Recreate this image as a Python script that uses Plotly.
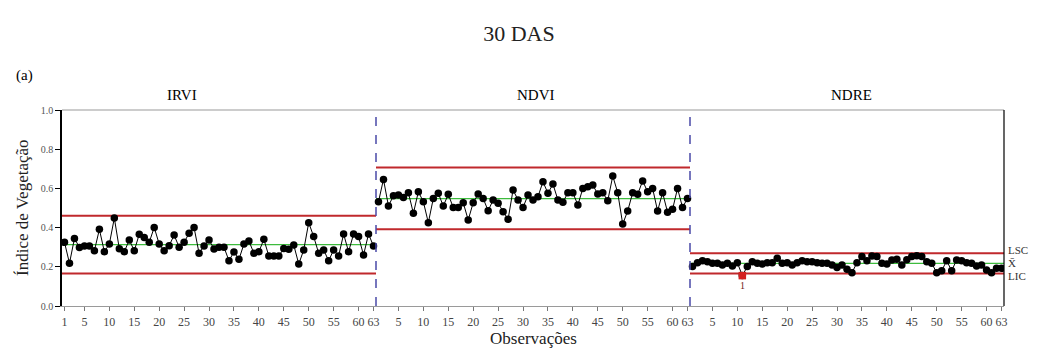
import plotly.graph_objects as go

# ---- data ----
stages = ["IRVI", "NDVI", "NDRE"]
irvi = [0.325, 0.218, 0.345, 0.299, 0.306, 0.306, 0.282, 0.391, 0.277, 0.316,
        0.449, 0.292, 0.277, 0.337, 0.282, 0.366, 0.349, 0.325, 0.401, 0.316,
        0.282, 0.308, 0.362, 0.300, 0.325, 0.371, 0.400, 0.269, 0.306, 0.337,
        0.291, 0.300, 0.300, 0.231, 0.276, 0.238, 0.316, 0.332, 0.269, 0.277,
        0.340, 0.255, 0.255, 0.255, 0.294, 0.289, 0.311, 0.214, 0.286, 0.425,
        0.354, 0.269, 0.286, 0.231, 0.286, 0.255, 0.367, 0.277, 0.367, 0.354,
        0.260, 0.367, 0.306]
ndvi = [0.532, 0.646, 0.510, 0.563, 0.566, 0.553, 0.578, 0.473, 0.583, 0.532,
        0.425, 0.549, 0.575, 0.510, 0.570, 0.502, 0.502, 0.527, 0.439, 0.527,
        0.571, 0.549, 0.486, 0.541, 0.524, 0.481, 0.442, 0.592, 0.541, 0.503,
        0.566, 0.541, 0.558, 0.634, 0.575, 0.622, 0.541, 0.529, 0.578, 0.578,
        0.515, 0.600, 0.609, 0.617, 0.571, 0.578, 0.537, 0.663, 0.578, 0.418,
        0.485, 0.578, 0.570, 0.638, 0.583, 0.600, 0.485, 0.578, 0.478, 0.493,
        0.600, 0.503, 0.549]
ndre = [0.201, 0.221, 0.231, 0.226, 0.218, 0.218, 0.209, 0.218, 0.204, 0.221,
        0.155, 0.201, 0.226, 0.218, 0.214, 0.221, 0.221, 0.243, 0.218, 0.221,
        0.209, 0.221, 0.231, 0.226, 0.226, 0.221, 0.218, 0.218, 0.209, 0.197,
        0.209, 0.187, 0.170, 0.221, 0.252, 0.231, 0.255, 0.252, 0.218, 0.214,
        0.235, 0.238, 0.209, 0.236, 0.252, 0.257, 0.252, 0.226, 0.218, 0.170,
        0.180, 0.231, 0.180, 0.235, 0.231, 0.221, 0.218, 0.204, 0.209, 0.184,
        0.170, 0.192, 0.192]
ucl = [0.460, 0.706, 0.269]
center = [0.313, 0.548, 0.217]
lcl = [0.166, 0.391, 0.166]
out_of_control_stage = 2      # NDRE
out_of_control_obs = 11       # observation inside NDRE stage
tick_numbers = [1, 5, 10, 15, 20, 25, 30, 35, 40, 45, 50, 55, 60, 63]
y_ticks = [0.0, 0.2, 0.4, 0.6, 0.8, 1.0]

series = [irvi, ndvi, ndre]
n = len(irvi)
SERIF = "Liberation Serif"

fig = go.Figure()

tickvals, ticktext = [], []
for s, vals in enumerate(series):
    off = s * n
    xs = [off + i + 1 for i in range(n)]
    x0, x1 = off + 0.5, off + n + 0.5
    # control limits
    for yv, col, w in [(ucl[s], "#c0292c", 2), (lcl[s], "#c0292c", 2), (center[s], "#3dbb3d", 1.2)]:
        fig.add_trace(go.Scatter(x=[x0, x1], y=[yv, yv], mode="lines",
                                 line=dict(color=col, width=w), hoverinfo="skip",
                                 showlegend=False))
    fig.add_trace(go.Scatter(x=xs, y=vals, mode="lines+markers",
                             line=dict(color="black", width=1),
                             marker=dict(color="black", size=7.5),
                             showlegend=False))
    for t in tick_numbers:
        if s > 0 and t == 1:
            continue
        tickvals.append(off + t)
        ticktext.append(str(t))

# out of control point
oc_x = out_of_control_stage * n + out_of_control_obs
oc_y = series[out_of_control_stage][out_of_control_obs - 1]
fig.add_trace(go.Scatter(x=[oc_x], y=[oc_y], mode="markers",
                         marker=dict(color="#d42020", size=7.5, symbol="square"),
                         showlegend=False))
fig.add_annotation(x=oc_x, y=oc_y, text="1", showarrow=False, yshift=-10,
                   font=dict(family=SERIF, size=10, color="#702020"))

# stage separators
for s in range(1, 3):
    fig.add_shape(type="line", xref="x", yref="paper", x0=s * n + 0.5, x1=s * n + 0.5,
                  y0=0, y1=1, line=dict(color="#4a4aa8", width=1.5, dash="dash"))
# top and right borders
fig.add_shape(type="line", xref="paper", yref="paper", x0=0, x1=1, y0=1, y1=1,
              line=dict(color="#9a9a9a", width=1.2))
fig.add_shape(type="line", xref="paper", yref="paper", x0=1, x1=1, y0=0, y1=1,
              line=dict(color="black", width=1.2))

# stage titles
title_pos = [0.127, 0.503, 0.838]
for s, name in enumerate(stages):
    fig.add_annotation(xref="paper", yref="paper", x=title_pos[s], y=1.0, yshift=15,
                       xanchor="center", yanchor="middle",
                       text=name, showarrow=False,
                       font=dict(family=SERIF, size=15, color="black"))

# right side labels
for txt, yv, sh in [("LSC", ucl[2], 3), ("X\u0304", center[2], 0), ("LIC", lcl[2], -3)]:
    fig.add_annotation(xref="paper", yref="y", x=1.0, y=yv, xanchor="left", yanchor="middle",
                       xshift=2, yshift=sh, text=txt, showarrow=False,
                       font=dict(family=SERIF, size=11, color="#333"))

fig.add_annotation(xref="paper", yref="paper", x=0, xshift=-48, y=1.0, yshift=35,
                   xanchor="left", yanchor="middle", text="(a)", showarrow=False,
                   font=dict(family=SERIF, size=15, color="black"))

# axis titles
fig.add_annotation(xref="paper", yref="paper", x=0.5, y=0, yshift=-32,
                   xanchor="center", yanchor="middle", text="Observações", showarrow=False,
                   font=dict(family=SERIF, size=17, color="#222"))
fig.add_annotation(xref="paper", yref="paper", x=0, xshift=-40, y=0.5,
                   xanchor="center", yanchor="middle", textangle=-90,
                   text="Índice de Vegetação", showarrow=False,
                   font=dict(family=SERIF, size=17, color="#222"))

fig.update_layout(
    width=1038, height=349,
    margin=dict(l=62, r=34, t=110, b=43, autoexpand=False),
    paper_bgcolor="white", plot_bgcolor="white",
    title=dict(text="30 DAS", x=0.5, xanchor="center", y=0.905, yanchor="middle",
               font=dict(family=SERIF, size=22, color="#222")),
    xaxis=dict(range=[0.5, 3 * n + 0.5], tickvals=tickvals, ticktext=ticktext,
               ticks="outside", ticklen=4, tickcolor="#777", showgrid=False, zeroline=False,
               showline=True, linecolor="#9a9a9a", linewidth=1.2, automargin=False,
               tickfont=dict(family=SERIF, size=12, color="#444")),
    yaxis=dict(range=[0, 1.0], tickvals=y_ticks, ticktext=[f"{v:.1f}" for v in y_ticks],
               ticks="outside", ticklen=5, tickcolor="black", showgrid=False, zeroline=False,
               showline=True, linecolor="black", linewidth=1.5, automargin=False,
               tickfont=dict(family=SERIF, size=10, color="#555")),
)

fig.write_html("out.html", config={"displayModeBar": False},
               post_script="document.body.style.margin='0px';")
